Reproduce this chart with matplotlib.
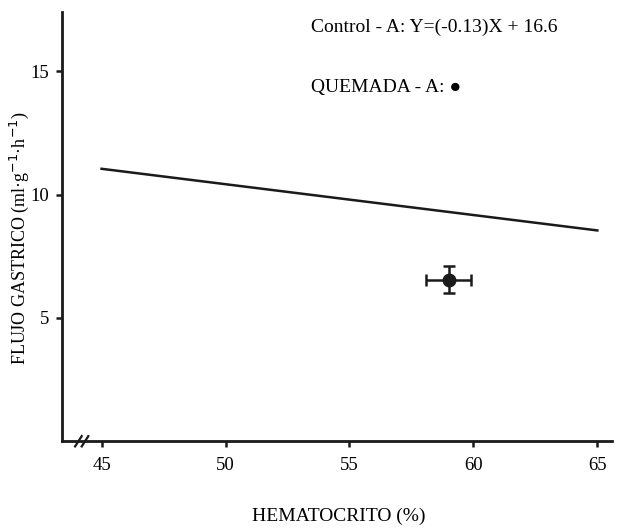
import matplotlib.pyplot as plt

# control regression line, read at the ends of the drawn segment
control_x = [45, 65]
control_y = [11.05, 8.55]

# burned group mean with error bars
quemada_x = [59.0]
quemada_y = [6.55]
quemada_xerr = [0.9]
quemada_yerr = [0.55]

x_ticks = [45, 50, 55, 60, 65]
y_ticks = [5, 10, 15]

plt.rcParams['font.family'] = ['Liberation Serif', 'DejaVu Serif']

fig = plt.figure(figsize=(6.19, 5.31), dpi=100)
ax = fig.add_axes([0.100, 0.169, 0.889, 0.808])

ax.plot(control_x, control_y, color='#1a1a1a', lw=1.8)
ax.errorbar(quemada_x, quemada_y, xerr=quemada_xerr, yerr=quemada_yerr,
            fmt='o', color='#1a1a1a', ms=9, elinewidth=1.8, capsize=4, capthick=1.8)

ax.set_xlim(43.4, 65.6)
ax.set_ylim(0, 17.4)
ax.set_xticks(x_ticks)
ax.set_yticks(y_ticks)
ax.tick_params(direction='out', length=4, width=1.8, labelsize=13.5, color='#1a1a1a')
ax.tick_params(axis='x', pad=7)
ax.tick_params(axis='y', pad=5)

for s in ['top', 'right']:
    ax.spines[s].set_visible(False)
for s in ['left', 'bottom']:
    ax.spines[s].set_linewidth(2)
    ax.spines[s].set_color('#1a1a1a')

# axis break marks on the x axis
for dx in (0.030, 0.042):
    ax.plot([dx - 0.006, dx + 0.006], [-0.012, 0.012], transform=ax.transAxes,
            color='#1a1a1a', lw=1.6, clip_on=False)

fig.text(339 / 619, 1 - 516 / 531, 'HEMATOCRITO (%)', fontsize=14,
         ha='center', va='center')
fig.text(19 / 619, 1 - 238 / 531, 'FLUJO GASTRICO (ml·g$^{-1}$·h$^{-1}$)', fontsize=13,
         ha='center', va='center', rotation=90)

ax.text(0.452, 0.965, 'Control - A: Y=(-0.13)X + 16.6', transform=ax.transAxes,
        fontsize=14, va='center')
ax.text(0.452, 0.825, 'QUEMADA - A: \u25CF', transform=ax.transAxes,
        fontsize=14, va='center')

fig.savefig('out.png', dpi=100)
